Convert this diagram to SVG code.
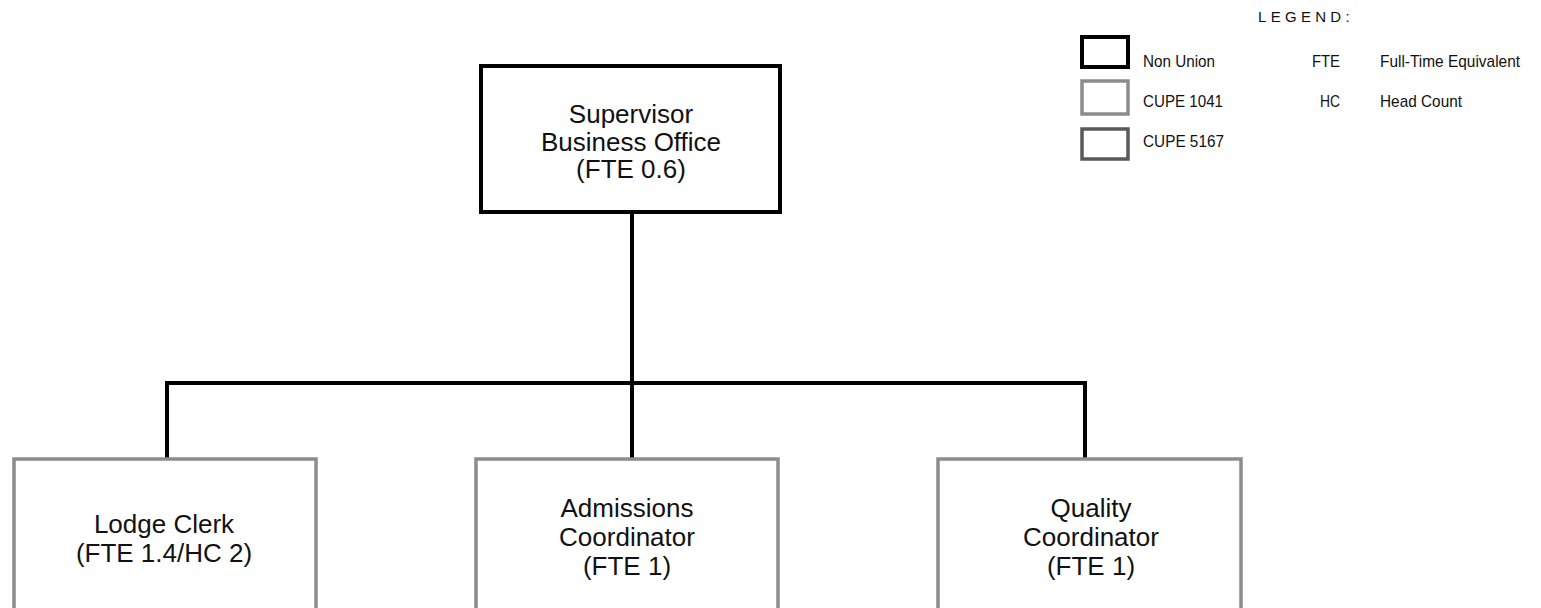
<svg xmlns="http://www.w3.org/2000/svg" width="1541" height="608" viewBox="0 0 1541 608">
<style>
.t{font-family:"Liberation Sans",Arial,sans-serif;font-size:26px;fill:#111;text-anchor:middle}
.l{font-family:"Liberation Sans",Arial,sans-serif;font-size:17px;fill:#111}
.nu{fill:#fff;stroke:#000;stroke-width:4}
.c1{fill:#fff;stroke:#8c8c8c;stroke-width:3.5}
.c2{fill:#fff;stroke:#5a5a5a;stroke-width:3.5}
.con{fill:none;stroke:#000;stroke-width:4}
</style>
<rect width="1541" height="608" fill="#fff"/>
<g id="connectors">
<path class="con" d="M632 213V458"/>
<path class="con" d="M165 383H1087"/>
<path class="con" d="M167 383V458"/>
<path class="con" d="M1085 383V458"/>
</g>
<g id="supervisor">
<rect class="nu" x="481" y="66" width="299" height="146"/>
<text class="t" x="631" y="123">Supervisor</text>
<text class="t" x="631" y="151">Business Office</text>
<text class="t" x="631" y="178">(FTE 0.6)</text>
</g>
<g id="lodge">
<rect class="c1" x="14" y="459" width="302" height="170"/>
<text class="t" x="164" y="533">Lodge Clerk</text>
<text class="t" x="164" y="562">(FTE 1.4/HC 2)</text>
</g>
<g id="admissions">
<rect class="c1" x="476" y="459" width="302" height="170"/>
<text class="t" x="627" y="517">Admissions</text>
<text class="t" x="627" y="546">Coordinator</text>
<text class="t" x="627" y="575">(FTE 1)</text>
</g>
<g id="quality">
<rect class="c1" x="938" y="459" width="303" height="170"/>
<text class="t" x="1091" y="517">Quality</text>
<text class="t" x="1091" y="546">Coordinator</text>
<text class="t" x="1091" y="575">(FTE 1)</text>
</g>
<g id="legend">
<text class="l" x="1258" y="22" style="font-size:15px;letter-spacing:4.3px">LEGEND:</text>
<rect class="nu" x="1082" y="37" width="46" height="30"/>
<rect class="c1" x="1082" y="81" width="46" height="33"/>
<rect class="c2" x="1082" y="129" width="46" height="30"/>
<text class="l" x="1143" y="67" textLength="72" lengthAdjust="spacingAndGlyphs">Non Union</text>
<text class="l" x="1143" y="107" textLength="80" lengthAdjust="spacingAndGlyphs">CUPE 1041</text>
<text class="l" x="1143" y="147" textLength="81" lengthAdjust="spacingAndGlyphs">CUPE 5167</text>
<text class="l" x="1312" y="67" textLength="28" lengthAdjust="spacingAndGlyphs">FTE</text>
<text class="l" x="1320" y="107" textLength="20" lengthAdjust="spacingAndGlyphs">HC</text>
<text class="l" x="1380" y="67" textLength="140" lengthAdjust="spacingAndGlyphs">Full-Time Equivalent</text>
<text class="l" x="1380" y="107" textLength="82" lengthAdjust="spacingAndGlyphs">Head Count</text>
</g>
</svg>
